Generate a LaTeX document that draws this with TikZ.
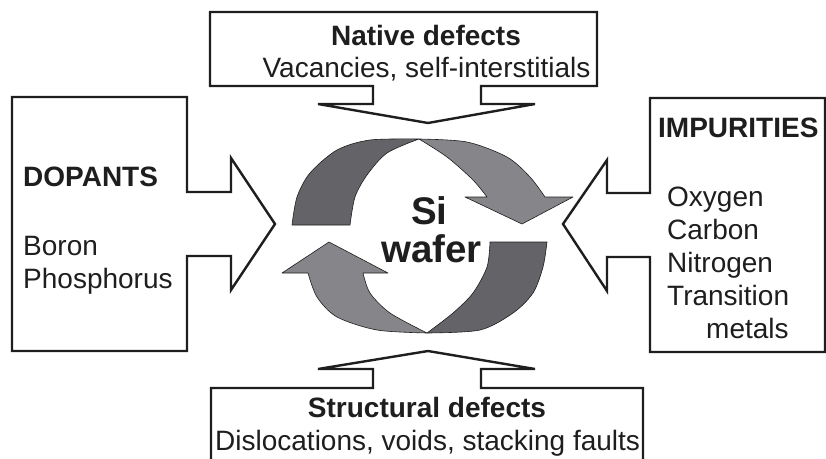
\documentclass[tikz,border=0pt]{standalone}
\usepackage{fontspec}
\setmainfont{Liberation Sans}
\definecolor{bandDark}{RGB}{100,100,104}
\definecolor{bandLight}{RGB}{134,134,138}
\definecolor{inkGrey}{RGB}{30,30,30}
\begin{document}
\begin{tikzpicture}[x=1pt,y=-1pt,
		callout/.style={draw=inkGrey,line width=2.4,line join=miter,fill=white},
		band/.style={draw=inkGrey,line width=0.6,line join=round},
		txt/.style={inner sep=0,text=inkGrey,font=\fontsize{28}{33}\selectfont},
		headtxt/.style={txt,font=\fontsize{28}{33}\selectfont\bfseries},
		bigtxt/.style={inner sep=0,text=inkGrey,font=\fontsize{38.5}{40}\selectfont\bfseries}]
	\useasboundingbox (0,0) rectangle (826,458);
	\clip (0,0) rectangle (826,458);
	\draw[callout] (210,12) -- (597,12) -- (597,86) -- (481,86) -- (481,104) -- (535,104) -- (428,123) -- (318,104) -- (373,104) -- (373,86) -- (210,86) -- cycle;
	\draw[callout] (211,470) -- (211,388) -- (373,388) -- (373,369) -- (318,369) -- (428,351) -- (535,369) -- (481,369) -- (481,388) -- (643,388) -- (643,470);
	\draw[callout] (12,97) -- (187,97) -- (187,192) -- (231,192) -- (231,158) -- (275,224) -- (231,290) -- (231,256) -- (187,256) -- (187,351) -- (12,351) -- cycle;
	\draw[callout] (825,98) -- (650,98) -- (650,193) -- (607,193) -- (607,160) -- (563,224) -- (607,291) -- (607,257) -- (650,257) -- (650,352) -- (825,352) -- cycle;
	\filldraw[band,fill=bandDark] plot[smooth] coordinates {(292,225) (297,197) (310,173) (337,150) (370,140) (419,139)} -- plot[smooth] coordinates {(419,139) (387,153) (367,175) (355,197) (350,225)} -- cycle;
	\filldraw[band,fill=bandLight] plot[smooth] coordinates {(419,139) (467,142) (507,157) (530,177) (545,197)} -- (573,197) -- (522,224) -- (465,197) -- plot[smooth] coordinates {(487,197) (473,180) (447,157) (419,139)} -- cycle;
	\filldraw[band,fill=bandDark] plot[smooth] coordinates {(547,242) (543,267) (533,293) (513,313) (480,330) (427,333)} -- plot[smooth] coordinates {(427,333) (453,313) (473,293) (487,267) (490,242)} -- cycle;
	\filldraw[band,fill=bandLight] plot[smooth] coordinates {(427,333) (377,330) (337,317) (317,297) (308,273)} -- (282,273) -- (329,242) -- (388,273) -- plot[smooth] coordinates {(363,273) (370,293) (390,313) (427,333)} -- cycle;
	\node[headtxt,anchor=base] (native) at (426,45) {Native defects};
	\node[txt,anchor=base] (vacancies) at (426.5,77) {Vacancies, self-interstitials};
	\node[headtxt,anchor=base] (structural) at (427,417) {Structural defects};
	\node[txt,anchor=base west] (disloc) at (215,450) {Dislocations, voids, stacking faults};
	\node[headtxt,anchor=base west] (dopants) at (23,186) {DOPANTS};
	\node[txt,anchor=base west] (boron) at (23,255) {Boron};
	\node[txt,anchor=base west] (phosphorus) at (23,288) {Phosphorus};
	\node[headtxt,anchor=base west] (impurities) at (658,137) {IMPURITIES};
	\node[txt,anchor=base west] (oxygen) at (667,206) {Oxygen};
	\node[txt,anchor=base west] (carbon) at (667,239) {Carbon};
	\node[txt,anchor=base west] (nitrogen) at (667,272) {Nitrogen};
	\node[txt,anchor=base west] (transition) at (667,305) {Transition};
	\node[txt,anchor=base west] (metals) at (706,338) {metals};
	\node[bigtxt,anchor=base] (si) at (429.5,224) {Si};
	\node[bigtxt,anchor=base] (wafer) at (431.5,262) {wafer};
\end{tikzpicture}
\end{document}
